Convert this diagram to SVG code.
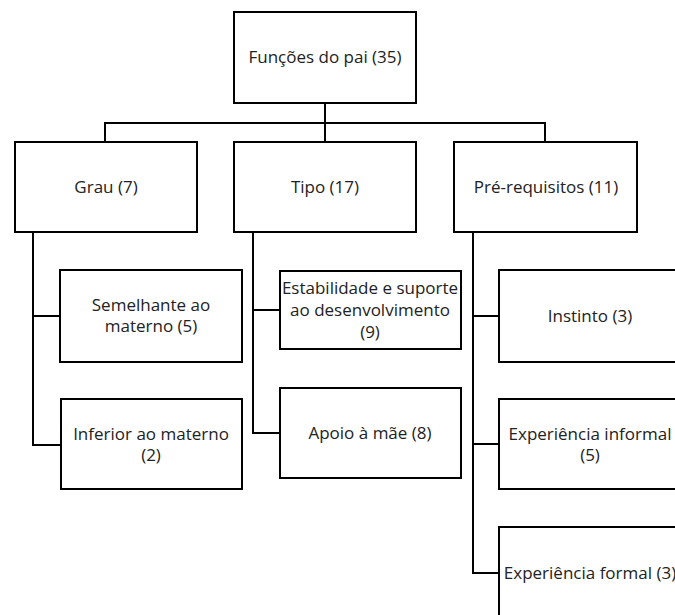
<svg xmlns="http://www.w3.org/2000/svg" width="675" height="615" viewBox="0 0 675 615">
<style>
.box{fill:#fff;stroke:#000;stroke-width:2}
.ln{fill:none;stroke:#000;stroke-width:2}
text{font-family:"Open Sans","Noto Sans",sans-serif;font-size:17px;fill:#222;text-anchor:middle}
</style>
<rect width="675" height="615" fill="#fff"/>
<g id="connectors">
<path class="ln" d="M325,103V142"/>
<path class="ln" d="M105,142V123H545V142"/>
<path class="ln" d="M33,232V445H61M33,316H60"/>
<path class="ln" d="M253,232V433H280M253,310H280"/>
<path class="ln" d="M473,232V573H499M473,316H499M473,444H499"/>
</g>
<g id="root"><rect class="box" x="234" y="12" width="182" height="91"/><text x="325" y="63">Funções do pai (35)</text></g>
<g id="grau"><rect class="box" x="15" y="142" width="182" height="90"/><text x="106" y="193">Grau (7)</text></g>
<g id="tipo"><rect class="box" x="234" y="142" width="182" height="90"/><text x="325" y="193">Tipo (17)</text></g>
<g id="prereq"><rect class="box" x="454" y="142" width="183" height="90"/><text x="546" y="193">Pré-requisitos (11)</text></g>
<g id="semelhante"><rect class="box" x="60" y="270" width="182" height="92"/><text x="151" y="311">Semelhante ao</text><text x="151" y="332">materno (5)</text></g>
<g id="inferior"><rect class="box" x="61" y="399" width="181" height="90"/><text x="151" y="440">Inferior ao materno</text><text x="151" y="461">(2)</text></g>
<g id="estabilidade"><rect class="box" x="280" y="271" width="181" height="78"/><text x="370" y="294">Estabilidade e suporte</text><text x="370" y="316">ao desenvolvimento</text><text x="370" y="338">(9)</text></g>
<g id="apoio"><rect class="box" x="280" y="388" width="181" height="90"/><text x="370" y="439">Apoio à mãe (8)</text></g>
<g id="instinto"><rect class="box" x="499" y="270" width="183" height="92"/><text x="590" y="322">Instinto (3)</text></g>
<g id="informal"><rect class="box" x="499" y="399" width="183" height="90"/><text x="590" y="440">Experiência informal</text><text x="590" y="461">(5)</text></g>
<g id="formal"><rect class="box" x="499" y="527" width="183" height="92"/><text x="590" y="579">Experiência formal (3)</text></g>
</svg>
